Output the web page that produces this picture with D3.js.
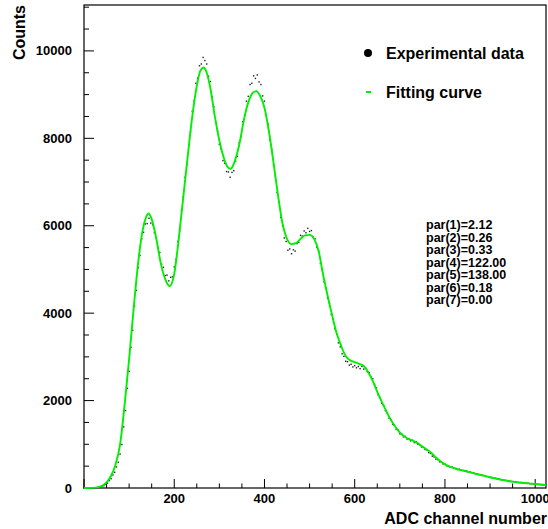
<!DOCTYPE html>
<html><head><meta charset="utf-8">
<script src="https://cdn.jsdelivr.net/npm/d3@7"></script>
<style>
html,body{margin:0;padding:0;background:#fff;}
text{font-family:"Liberation Sans",Arial,sans-serif;font-weight:bold;fill:#000;}
</style></head>
<body>
<svg id="chart" width="548" height="529"></svg>
<script>
// ---- data ----
const binWidth = 4; // ADC channels per listed data point
const dataCounts = [0,0,1,2,3,4,6,9,15,24,40,52,84,112,170,212,298,360,482,590,775,995,1400,1770,2280,2670,3220,3610,4160,4520,5040,5320,5700,5850,6040,6050,6170,6060,6020,5840,5730,5500,5390,5120,5050,4860,4870,4740,4820,4830,5060,5230,5640,5890,6350,6660,7110,7400,7850,8150,8620,8860,9260,9380,9660,9700,9850,9780,9700,9420,9300,8950,8720,8360,8170,7860,7760,7490,7430,7240,7230,7110,7220,7260,7480,7590,7900,8040,8380,8530,8850,8960,9230,9260,9430,9370,9450,9290,9230,8970,8850,8520,8330,7960,7750,7380,7140,6760,6540,6190,6000,5720,5640,5440,5470,5360,5450,5420,5590,5620,5780,5760,5880,5840,5940,5870,5890,5740,5700,5510,5420,5140,4990,4720,4570,4340,4230,3970,3860,3640,3520,3320,3230,3070,3010,2900,2890,2810,2830,2770,2800,2750,2780,2730,2780,2720,2740,2660,2640,2540,2500,2360,2290,2130,2070,1940,1890,1770,1720,1600,1560,1460,1440,1340,1330,1240,1240,1170,1180,1120,1130,1080,1090,1040,1060,1000,990,940,930,880,870,810,790,730,710,660,650,600,595,550,545,510,500,475,480,455,448,425,428,405,400,385,390,362,365,348,345,326,322,302,304,286,282,262,260,243,240,224,222,207,204,189,188,175,172,159,155,148,146,134,133,124,125,115,116,108,109,100,100,94,93,85,85,78,78,73];

const fitChannels = [0,20,30,40,50,60,70,80,90,100,110,120,130,137,143,150,160,170,180,190,200,210,220,230,240,250,258,265,272,280,290,300,310,318,325,335,345,355,365,375,382,390,400,410,420,430,440,450,460,470,480,490,500,510,520,530,540,550,560,570,580,590,600,610,620,630,640,650,660,670,680,690,700,710,720,730,740,750,760,770,780,790,800,810,820,830,840,850,860,870,880,890,900,910,920,930,940,950,960,970,980,990,1000,1010,1024];
const fitCounts = [0,3,15,50,130,280,540,1000,1900,2950,4100,5150,5900,6180,6280,6150,5720,5150,4780,4620,4900,5700,6650,7600,8500,9200,9550,9620,9500,9150,8500,7950,7550,7350,7300,7500,7900,8450,8850,9050,9080,8980,8700,8150,7450,6700,6050,5700,5580,5600,5700,5780,5790,5700,5420,4880,4400,3950,3540,3250,3020,2920,2880,2840,2790,2650,2450,2200,1970,1760,1560,1400,1270,1180,1120,1080,1020,950,880,800,700,610,540,490,455,420,400,375,350,320,298,270,245,222,200,180,160,145,130,120,110,100,90,80,70];

const xMajorTicks = [0,200,400,600,800,1000];
const yMajorTicks = [0,2000,4000,6000,8000,10000];
const legendLabels = ["Experimental data","Fitting curve"];
const parLabels = ["par(1)=2.12","par(2)=0.26","par(3)=0.33","par(4)=122.00","par(5)=138.00","par(6)=0.18","par(7)=0.00"];
const xTitle = "ADC channel number";
const yTitle = "Counts";

// ---- chart ----
const svg = d3.select("#chart");
const L = 84, R = 546, T = 5, B = 488;
const x = d3.scaleLinear().domain([0,1024]).range([L,R]);
const y = d3.scaleLinear().domain([0,11050]).range([B,T]);

// minor ticks
const xMinor = d3.range(0,1024,50).filter(v=>v%200!==0);
const yMinor = d3.range(0,11050,500).filter(v=>v%2000!==0);

const g = svg.append("g");
g.selectAll(".xminor").data(xMinor).join("line")
  .attr("x1",d=>x(d)).attr("x2",d=>x(d)).attr("y1",B).attr("y2",B-4.5)
  .attr("stroke","#000").attr("stroke-width",1);
g.selectAll(".xmajor").data(xMajorTicks).join("line")
  .attr("x1",d=>x(d)).attr("x2",d=>x(d)).attr("y1",B).attr("y2",B-9)
  .attr("stroke","#000").attr("stroke-width",1);
g.selectAll(".yminor").data(yMinor).join("line")
  .attr("x1",L).attr("x2",L+5).attr("y1",d=>y(d)).attr("y2",d=>y(d))
  .attr("stroke","#000").attr("stroke-width",1);
g.selectAll(".ymajor").data(yMajorTicks).join("line")
  .attr("x1",L).attr("x2",L+10).attr("y1",d=>y(d)).attr("y2",d=>y(d))
  .attr("stroke","#000").attr("stroke-width",1);

// tick labels
g.selectAll(".xlab").data(xMajorTicks.filter(d=>d>0)).join("text")
  .attr("x",d=>x(d)).attr("y",503).attr("text-anchor","middle")
  .attr("font-size",13).text(d=>d);
g.selectAll(".ylab").data(yMajorTicks).join("text")
  .attr("x",72).attr("y",d=>y(d)+4.5).attr("text-anchor","end")
  .attr("font-size",13).text(d=>d);

// frame
svg.append("rect").attr("x",L).attr("y",T).attr("width",R-L).attr("height",B-T)
  .attr("fill","none").attr("stroke","#000").attr("stroke-width",1.2);

// data points
svg.append("g").selectAll("rect").data(dataCounts).join("rect")
  .attr("x",(d,i)=>x(i*binWidth)-0.7).attr("y",d=>y(d)-0.7)
  .attr("width",1.4).attr("height",1.4).attr("fill","#222");

// fit curve
const line = d3.line().x(d=>x(d[0])).y(d=>y(d[1])).curve(d3.curveMonotoneX);
svg.append("path").datum(fitChannels.map((c,i)=>[c,fitCounts[i]]))
  .attr("d",line).attr("fill","none").attr("stroke","#00ee00").attr("stroke-width",1.9);

// titles
svg.append("text").attr("x",547).attr("y",524).attr("text-anchor","end")
  .attr("font-size",16).text(xTitle);
svg.append("text").attr("transform","translate(25,5) rotate(-90)").attr("text-anchor","end")
  .attr("font-size",16).text(yTitle);

// legend
svg.append("circle").attr("cx",368).attr("cy",53).attr("r",4).attr("fill","#000");
svg.append("line").attr("x1",366).attr("x2",371).attr("y1",92).attr("y2",92)
  .attr("stroke","#00ee00").attr("stroke-width",2);
svg.selectAll(".leg").data(legendLabels).join("text")
  .attr("x",386).attr("y",(d,i)=>58.5+i*39).attr("font-size",16).text(d=>d);

// parameters
svg.selectAll(".par").data(parLabels).join("text")
  .attr("x",426).attr("y",(d,i)=>229+i*12.5).attr("font-size",12.5).text(d=>d);
</script>
</body></html>
